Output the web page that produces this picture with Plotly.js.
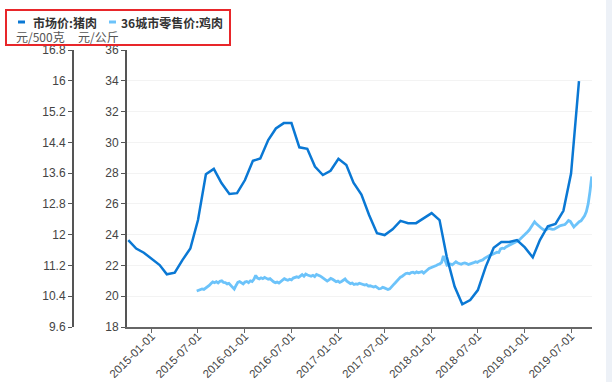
<!DOCTYPE html>
<html><head><meta charset="utf-8">
<script src="https://cdn.plot.ly/plotly-3.0.1.min.js"></script>
<style>html,body{margin:0;padding:0;background:#fff}#chart{width:612px;height:382px}</style>
</head><body><div id="chart"></div>
<script>
// ---- data ----
const porkName = '市场价:猪肉';
const chickenName = '36城市零售价:鸡肉';
const porkUnit = '元/500克';
const chickenUnit = '元/公斤';
const porkStart = '2014-10-01';   // monthly
const porkValues = [
 11.86, 11.64, 11.53,
 11.36, 11.21, 10.97, 11.01, 11.34, 11.64, 12.38, 13.57, 13.71, 13.34, 13.06, 13.08,
 13.42, 13.92, 13.98, 14.46, 14.76, 14.90, 14.90, 14.27, 14.23, 13.77, 13.55, 13.66,
 13.97, 13.81, 13.35, 13.04, 12.51, 12.04, 11.99, 12.14, 12.36, 12.30, 12.30, 12.43,
 12.56, 12.38, 11.43, 10.65, 10.19, 10.30, 10.56, 11.17, 11.66, 11.81, 11.81, 11.86,
 11.67, 11.41, 11.86, 12.22, 12.28, 12.62, 13.59, 15.99
];
const chickenStart = '2015-06-26'; // weekly
const chickenValues = [
 20.34,20.38,20.42,20.47,20.44,20.52,20.58,20.70,20.82,20.93,
 20.88,20.95,20.86,20.97,21.00,20.90,20.88,20.80,20.84,20.72,
 20.62,20.46,20.70,20.90,20.95,20.86,20.80,20.92,20.96,20.88,
 21.00,20.95,21.10,21.35,21.18,21.12,21.20,21.14,21.22,21.16,
 21.10,21.14,21.02,20.94,20.88,20.92,20.86,20.95,21.10,21.14,
 21.08,21.04,21.10,21.06,21.18,21.20,21.26,21.22,21.34,21.40,
 21.30,21.44,21.38,21.36,21.30,21.36,21.28,21.42,21.38,21.32,
 21.24,21.14,21.02,20.98,21.06,21.16,21.10,21.02,20.94,20.98,
 20.90,20.96,21.04,21.12,20.98,20.88,20.82,20.86,20.76,20.80,
 20.78,20.84,20.80,20.74,20.72,20.76,20.66,20.68,20.64,20.60,
 20.64,20.56,20.48,20.50,20.58,20.54,20.50,20.44,20.48,20.58,
 20.74,20.86,21.00,21.14,21.24,21.30,21.42,21.48,21.50,21.46,
 21.54,21.56,21.50,21.58,21.52,21.56,21.60,21.50,21.58,21.70,
 21.80,21.84,21.90,21.96,22.00,22.06,22.10,22.20,22.62,22.30,
 22.02,22.06,22.10,22.04,22.16,22.24,22.16,22.12,22.08,22.14,
 22.16,22.12,22.06,22.10,22.12,22.18,22.24,22.20,22.28,22.32,
 22.36,22.46,22.54,22.58,22.66,22.70,22.76,22.82,22.86,22.84,
 23.08,23.12,23.10,23.20,23.26,23.30,23.36,23.40,23.46,23.52,
 23.62,23.72,23.82,23.94,24.06,24.18,24.30,24.50,24.70,24.84,
 24.70,24.58,24.50,24.40,24.32,24.30,24.36,24.42,24.38,24.34,
 24.36,24.44,24.52,24.56,24.60,24.62,24.66,24.78,24.92,24.86,
 24.66,24.50,24.62,24.74,24.84,24.90,25.06,25.22,25.50,26.00,
 26.80,27.78
];
const xTickLabels = ['2015-01-01','2015-07-01','2016-01-01','2016-07-01','2017-01-01',
                     '2017-07-01','2018-01-01','2018-07-01','2019-01-01','2019-07-01'];
const porkTicks = ['9.6','10.4','11.2','12','12.8','13.6','14.4','15.2','16','16.8'];
const chickenTicks = ['18','20','22','24','26','28','30','32','34','36'];

// ---- helpers ----
function pad(n){return (n<10?'0':'')+n;}
function monthlyDates(start, n){
  const [y,m] = start.split('-').map(Number); const out=[];
  for(let i=0;i<n;i++){const t=(m-1)+i; out.push((y+Math.floor(t/12))+'-'+pad(t%12+1)+'-01');}
  return out;
}
function weeklyDates(start, n){
  const d0 = new Date(start+'T00:00:00Z'); const out=[];
  for(let i=0;i<n;i++){const d=new Date(d0.getTime()+i*7*86400000);
    out.push(d.getUTCFullYear()+'-'+pad(d.getUTCMonth()+1)+'-'+pad(d.getUTCDate()));}
  return out;
}
const W=612,H=382;
const px = x => x/W, py = y => (H-y)/H;

const porkColor = '#0a78d4';
const chickenColor = '#6cc3fa';
const fontFam = 'Liberation Sans, Arial, sans-serif';
const cjk = 'Noto Sans CJK SC, sans-serif';

const traces = [
  {x: weeklyDates(chickenStart, chickenValues.length), y: chickenValues, name: chickenName,
   type:'scatter', mode:'lines', line:{color:chickenColor, width:2.8}, yaxis:'y', hoverinfo:'skip'},
  {x: monthlyDates(porkStart, porkValues.length), y: porkValues, name: porkName,
   type:'scatter', mode:'lines', line:{color:porkColor, width:2.5}, yaxis:'y2', hoverinfo:'skip'}
];

const layout = {
  width:W, height:H, margin:{l:0,r:0,t:0,b:0},
  paper_bgcolor:'#fff', plot_bgcolor:'#fff', showlegend:false,
  xaxis:{domain:[px(127),px(592)], type:'date', range:['2014-09-26','2019-09-21'],
    tickvals:xTickLabels, ticktext:xTickLabels, tickangle:-45, ticklabelstandoff:-8,
    ticks:'outside', ticklen:4, tickcolor:'#666', tickwidth:1,
    showline:true, linecolor:'#666', linewidth:2, showgrid:false, zeroline:false,
    tickfont:{family:fontFam, size:11.5, color:'#444'}},
  yaxis:{domain:[py(327),py(50)], range:[18,36], tickvals:chickenTicks.map(Number), ticktext:chickenTicks,
    ticks:'outside', ticklen:4, tickcolor:'#555', showline:true, linecolor:'#555', linewidth:2,
    showgrid:true, gridcolor:'#f3f3f3', gridwidth:1, zeroline:false,
    tickfont:{family:fontFam, size:12, color:'#444'}, anchor:'x'},
  yaxis2:{range:[9.6,16.8], tickvals:porkTicks.map(Number), ticktext:porkTicks, overlaying:'y',
    side:'left', anchor:'free', position:px(73),
    ticks:'outside', ticklen:4, tickcolor:'#555', showline:true, linecolor:'#555', linewidth:2,
    showgrid:false, zeroline:false, tickfont:{family:fontFam, size:12, color:'#444'}},
  shapes:[
    {type:'rect', xref:'paper', yref:'paper', x0:px(606), x1:px(612), y0:0, y1:1,
     fillcolor:'#edf1f7', line:{width:0}, layer:'below'},
    {type:'rect', xref:'paper', yref:'paper', x0:px(6), x1:px(230), y0:py(10), y1:py(45),
     line:{color:'#e8262a', width:2}},
    {type:'line', xref:'paper', yref:'paper', x0:px(18), x1:px(25), y0:py(22), y1:py(22),
     line:{color:porkColor, width:3}},
    {type:'line', xref:'paper', yref:'paper', x0:px(109), x1:px(116), y0:py(22), y1:py(22),
     line:{color:chickenColor, width:3}}
  ],
  annotations:[
    {xref:'paper', yref:'paper', x:px(31), y:py(22), xanchor:'left', yanchor:'middle', showarrow:false,
     text:'<b>'+porkName+'</b>', font:{family:cjk, size:12, color:'#333'}},
    {xref:'paper', yref:'paper', x:px(119), y:py(22), xanchor:'left', yanchor:'middle', showarrow:false,
     text:'<b>'+chickenName+'</b>', font:{family:cjk, size:12, color:'#333'}},
    {xref:'paper', yref:'paper', x:px(14), y:py(37), xanchor:'left', yanchor:'middle', showarrow:false,
     text:porkUnit, font:{family:cjk, size:12, color:'#555'}},
    {xref:'paper', yref:'paper', x:px(76), y:py(37), xanchor:'left', yanchor:'middle', showarrow:false,
     text:chickenUnit, font:{family:cjk, size:12, color:'#555'}}
  ]
};
Plotly.newPlot('chart', traces, layout, {displayModeBar:false, staticPlot:true});
</script></body></html>
